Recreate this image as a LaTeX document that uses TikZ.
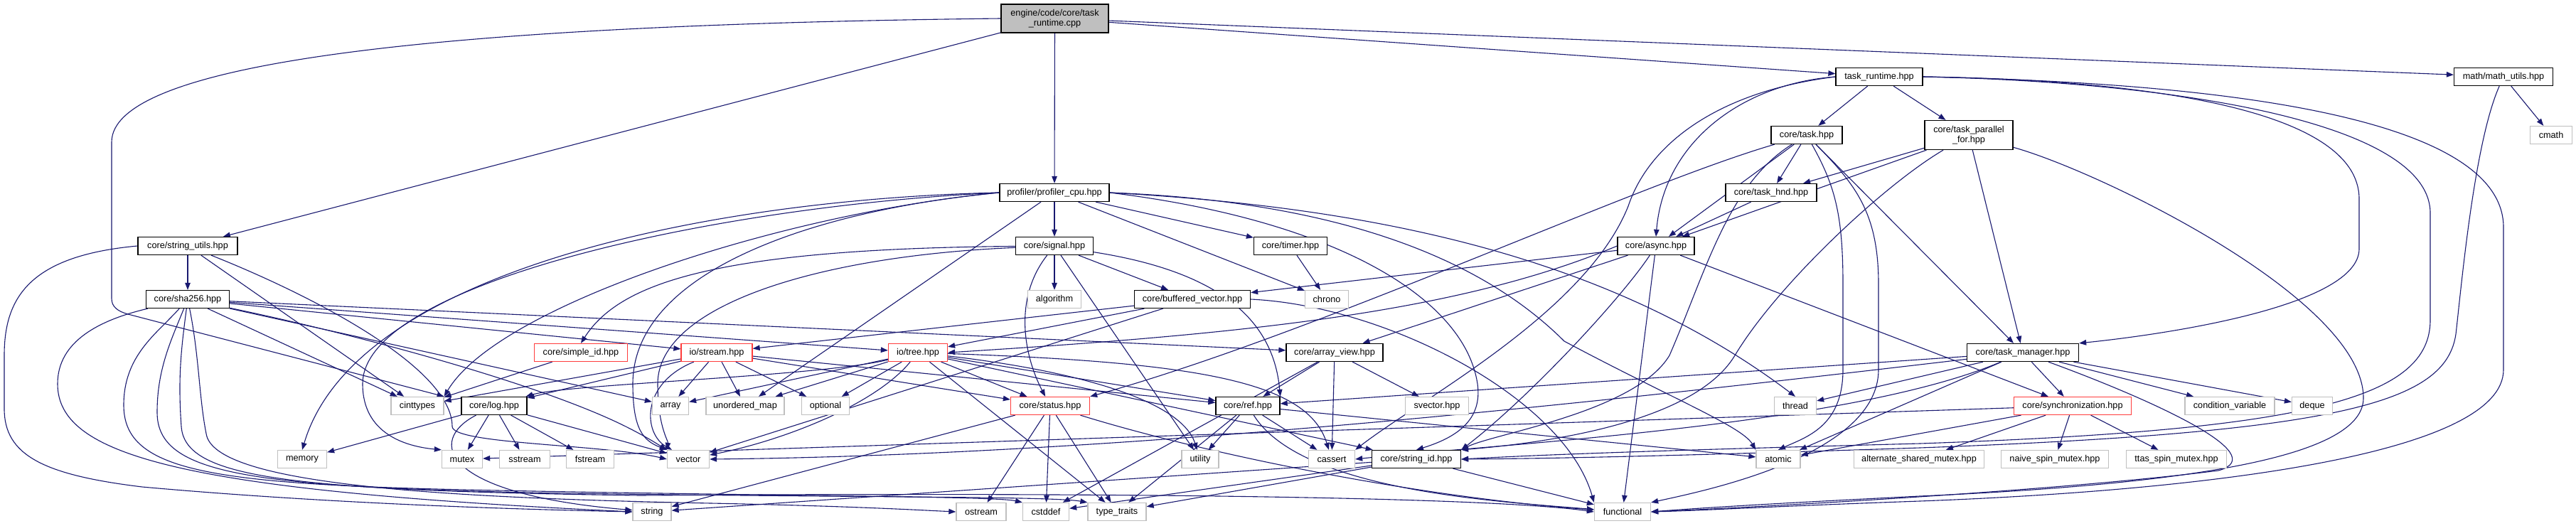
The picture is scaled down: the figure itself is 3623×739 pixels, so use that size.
\documentclass[tikz,border=0pt]{standalone}
\usepackage{fontspec}
\setmainfont{Liberation Sans}
\usetikzlibrary{arrows.meta,backgrounds}
\definecolor{edgec}{RGB}{25,25,112}
\definecolor{grayb}{RGB}{191,191,191}
\definecolor{redb}{RGB}{255,60,60}
\tikzset{
 box/.style={draw=black, line width=1.3pt, fill=white, minimum height=25pt, inner sep=0pt, font=\fontsize{12.7}{14.5}\selectfont, align=center},
 sys/.style={box, draw=grayb},
 trunc/.style={box, draw=redb},
 e/.style={draw=edgec, line width=1.1pt, -{Triangle[length=10pt,width=7.5pt]}},
}
\begin{document}
\begin{tikzpicture}[x=1pt,y=-1pt]
\useasboundingbox (0,0) rectangle (3623,739);
% nodes
\node[box, fill=grayb, minimum width=151pt, minimum height=40pt] (R) at (1483.5,26) {engine/code/core/task\\\_runtime.cpp};
\node[box, minimum width=122pt] (tr) at (2643,108) {task\_runtime.hpp};
\node[box, minimum width=139pt] (mu) at (3521,108) {math/math\_utils.hpp};
\node[box, minimum width=100pt] (tk) at (2541,190) {core/task.hpp};
\node[box, minimum width=124pt, minimum height=41pt] (tpf) at (2769,190) {core/task\_parallel\\\_for.hpp};
\node[sys, minimum width=59pt] (cmath) at (3588,190) {cmath};
\node[box, minimum width=154pt] (pc) at (1483,271) {profiler/profiler\_cpu.hpp};
\node[box, minimum width=128pt] (th) at (2491,271) {core/task\_hnd.hpp};
\node[box, minimum width=140pt] (su) at (264,346) {core/string\_utils.hpp};
\node[box, minimum width=109pt] (sig) at (1483,346) {core/signal.hpp};
\node[box, minimum width=103pt] (tim) at (1815,346) {core/timer.hpp};
\node[box, minimum width=108pt] (as) at (2329,346) {core/async.hpp};
\node[box, minimum width=117pt] (sha) at (264,421) {core/sha256.hpp};
\node[sys, minimum width=75pt] (alg) at (1483,421) {algorithm};
\node[box, minimum width=163pt] (bv) at (1677,421) {core/buffered\_vector.hpp};
\node[sys, minimum width=61pt] (chr) at (1866,421) {chrono};
\node[trunc, minimum width=131pt] (sid) at (817,496) {core/simple\_id.hpp};
\node[trunc, minimum width=100pt] (ios) at (1008,496) {io/stream.hpp};
\node[trunc, minimum width=83pt] (iot) at (1291,496) {io/tree.hpp};
\node[box, minimum width=136pt] (av) at (1877,496) {core/array\_view.hpp};
\node[box, minimum width=157pt] (tm) at (2845,496) {core/task\_manager.hpp};
\node[sys, minimum width=74pt] (cint) at (587,571) {cinttypes};
\node[box, minimum width=92pt] (log) at (695,571) {core/log.hpp};
\node[sys, minimum width=51pt] (arr) at (943,571) {array};
\node[sys, minimum width=110pt] (umap) at (1048,571) {unordered\_map};
\node[sys, minimum width=67pt] (opt) at (1161,571) {optional};
\node[trunc, minimum width=111pt] (st) at (1477,571) {core/status.hpp};
\node[box, minimum width=90pt] (ref) at (1755,571) {core/ref.hpp};
\node[sys, minimum width=89pt] (svec) at (2021,571) {svector.hpp};
\node[sys, minimum width=59pt] (thr) at (2525,571) {thread};
\node[trunc, minimum width=165pt] (sync) at (2915,571) {core/synchronization.hpp};
\node[sys, minimum width=126pt] (cv) at (3136,571) {condition\_variable};
\node[sys, minimum width=57pt] (dq) at (3252,571) {deque};
\node[sys, minimum width=69pt] (mem) at (425,646) {memory};
\node[sys, minimum width=57pt] (mtx) at (650,646) {mutex};
\node[sys, minimum width=71pt] (sst) at (738,646) {sstream};
\node[sys, minimum width=67pt] (fst) at (830,646) {fstream};
\node[sys, minimum width=59pt] (vec) at (968,646) {vector};
\node[sys, minimum width=52pt] (util) at (1688,646) {utility};
\node[sys, minimum width=65pt] (cas) at (1873,646) {cassert};
\node[box, minimum width=125pt] (strid) at (1992,646) {core/string\_id.hpp};
\node[sys, minimum width=62pt] (atom) at (2501,646) {atomic};
\node[sys, minimum width=183pt] (asm) at (2699,646) {alternate\_shared\_mutex.hpp};
\node[sys, minimum width=151pt] (nsm) at (2890,646) {naive\_spin\_mutex.hpp};
\node[sys, minimum width=141pt] (tsm) at (3061,646) {ttas\_spin\_mutex.hpp};
\node[sys, minimum width=54pt] (str) at (917,720) {string};
\node[sys, minimum width=70pt] (ost) at (1380,720) {ostream};
\node[sys, minimum width=65pt] (cstd) at (1471,720) {cstddef};
\node[sys, minimum width=82pt] (tt) at (1571,720) {type\_traits};
\node[sys, minimum width=79pt] (fn) at (2282,720) {functional};
% edges
\begin{scope}[on background layer]
\fill[white] (0,0) rectangle (3623,739);
\foreach \a/\b in {R/tr, R/mu, R/pc, R/su,
  tr/tk, tr/tpf, mu/cmath,
  tk/th, tk/as, tk/tm,
  tpf/th, tpf/as, tpf/tm, th/as,
  as/bv, as/av, as/sync, as/fn,
  pc/sig, pc/tim, pc/umap, pc/chr,
  su/sha, su/cint,
  sha/av, sha/ios, sha/iot, sha/cint, sha/arr,
  sig/alg, sig/bv, sig/util,
  bv/ios, bv/iot, bv/vec, tim/chr, sid/cint,
  ios/log, ios/cint, ios/arr, ios/umap, ios/opt, ios/st, ios/ref,
  iot/arr, iot/umap, iot/opt, iot/st, iot/ref, iot/tt, iot/strid,
  av/svec, av/cas, av/cstd, av/ref,
  tm/ref, tm/sync, tm/cv, tm/dq, tm/thr, tm/atom,
  sync/asm, sync/nsm, sync/tsm, sync/atom, sync/mtx,
  log/mem, log/mtx, log/sst, log/fst, log/vec,
  st/ost, st/cstd, st/tt, st/str,
  ref/util, ref/cas, ref/tt, ref/atom,
  strid/str, strid/cstd, strid/tt, strid/fn}
  \draw[e] (\a) -- (\b);
% long routed edges
\draw[e] (R.west) .. controls (600,35) and (157,90) .. (157,200) -- (157,420) .. controls (157,432) and (166,438) .. (180,442) -- (cint.north east);
\draw[e] (su.west) .. controls (40,360) and (6,420) .. (6,500) -- (6,575) .. controls (6,640) and (60,668) .. (200,685) .. controls (500,712) and (800,718) .. (str.west);
\draw[e] (sha) .. controls (140,450) and (81,480) .. (81,540) .. controls (81,640) and (250,690) .. (str.west);
\draw[e] (sha) .. controls (220,470) and (174,500) .. (174,570) .. controls (174,665) and (300,682) .. (700,690) .. controls (1100,698) and (1400,698) .. (cstd.north west);
\draw[e] (sha) .. controls (240,480) and (221,520) .. (221,580) .. controls (221,668) and (350,686) .. (800,694) .. controls (1200,700) and (1480,698) .. (tt.north west);
\draw[e] (sha) .. controls (255,490) and (250,530) .. (255,600) .. controls (260,672) and (400,690) .. (900,697) .. controls (1600,692) and (2100,700) .. (fn.west);
\draw[e] (sha) .. controls (280,500) and (280,560) .. (290,610) .. controls (300,680) and (600,700) .. (1000,708) .. controls (1200,712) and (1300,718) .. (ost.west);
\draw[e] (sha) .. controls (500,470) and (760,540) .. (880,600) .. controls (910,615) and (925,625) .. (vec.north west);
\draw[e] (su) .. controls (450,420) and (636,520) .. (636,600) .. controls (636,625) and (850,625) .. (vec.west);
\draw[e] (tr.west) .. controls (2450,118) and (2340,200) .. (as.north);
\draw[e] (tr.west) .. controls (2420,128) and (2320,200) .. (2290,290) .. controls (2230,440) and (2000,560) .. (cas.north east);
\draw[e] (tr.east) .. controls (3000,112) and (3318,150) .. (3318,280) -- (3318,350) .. controls (3318,430) and (3050,470) .. (tm.north east);
\draw[e] (tr.east) .. controls (3050,115) and (3418,170) .. (3418,300) -- (3418,450) .. controls (3418,560) and (3250,605) .. (2700,624) .. controls (2400,632) and (2200,638) .. (strid.east);
\draw[e] (tr.east) .. controls (3200,118) and (3521,180) .. (3521,320) -- (3521,520) .. controls (3521,640) and (3100,690) .. (2700,705) .. controls (2500,712) and (2400,718) .. (fn.east);
\draw[e] (mu) .. controls (3480,200) and (3462,400) .. (3454,470) .. controls (3440,565) and (3300,608) .. (2700,630) .. controls (2400,640) and (2200,645) .. (strid.east);
\draw[e] (tpf) .. controls (2950,240) and (3324,420) .. (3324,560) .. controls (3324,640) and (3100,680) .. (2700,698) .. controls (2500,708) and (2400,714) .. (fn.east);
\draw[e] (tpf) .. controls (2650,260) and (2500,400) .. (2440,500) .. controls (2380,600) and (2150,625) .. (strid.north east);
\draw[e] (tm) .. controls (3020,560) and (3200,640) .. (3120,662) .. controls (2900,690) and (2500,712) .. (fn.east);
\draw[e] (tm) .. controls (2300,560) and (1600,640) .. (vec.east);
\draw[e] (tm) .. controls (2600,600) and (2100,625) .. (cas.east);
\draw[e] (tk) .. controls (2580,260) and (2592,300) .. (2592,400) -- (2592,520) .. controls (2592,600) and (2540,615) .. (atom.north);
\draw[e] (tk) .. controls (2610,260) and (2642,300) .. (2642,400) -- (2642,520) .. controls (2642,640) and (2400,690) .. (fn.north east);
\draw[e] (tk) .. controls (2430,260) and (2400,380) .. (2348,500) .. controls (2300,580) and (2100,610) .. (strid.north east);
\draw[e] (tk) .. controls (2300,260) and (1850,470) .. (st.north east);
\draw[e] (as) .. controls (2280,420) and (2150,560) .. (strid.north east);
\draw[e] (as.west) .. controls (2050,440) and (1750,470) .. (iot.east);
\draw[e] (pc.west) .. controls (1000,280) and (500,380) .. (mem.north);
\draw[e] (pc.west) .. controls (1000,290) and (510,400) .. (510,540) .. controls (510,610) and (570,628) .. (mtx.north west);
\draw[e] (pc.west) .. controls (1100,300) and (700,430) .. (cint.north east);
\draw[e] (pc.west) .. controls (1150,295) and (890,380) .. (890,540) .. controls (890,605) and (905,620) .. (vec.north west);
\draw[e] (pc.east) .. controls (1900,290) and (2250,350) .. (thr.north);
\draw[e] (pc.east) .. controls (1880,310) and (2060,420) .. (2078,540) .. controls (2085,590) and (2050,615) .. (strid.north);
\draw[e] (pc.east) .. controls (1800,280) and (2050,330) .. (2200,480) .. controls (2350,560) and (2450,600) .. (atom.north west);
\draw[e] (sig) .. controls (1000,350) and (870,400) .. (sid.north);
\draw[e] (sig) .. controls (1150,360) and (925,430) .. (925,540) .. controls (925,600) and (940,620) .. (vec.north west);
\draw[e] (sig) .. controls (1425,420) and (1440,500) .. (st);
\draw[e] (sig) .. controls (1700,380) and (1790,440) .. (ref.north east);
\draw[e] (bv.east) .. controls (1950,430) and (2200,560) .. (fn.north west);
\draw[e] (ios) .. controls (900,540) and (905,610) .. (vec);
\draw[e] (iot) .. controls (1230,570) and (1100,620) .. (vec);
\draw[e] (iot) .. controls (1500,520) and (1660,560) .. (util);
\draw[e] (iot) .. controls (1700,510) and (1840,540) .. (cas);
\draw[e] (iot) .. controls (1150,530) and (800,540) .. (log);
\draw[e] (log) .. controls (600,620) and (620,695) .. (str);
\draw[e] (st) .. controls (1700,640) and (2000,700) .. (fn);
\draw[e] (ref) .. controls (1830,690) and (2100,705) .. (fn);
\end{scope}
\end{tikzpicture}
\end{document}
